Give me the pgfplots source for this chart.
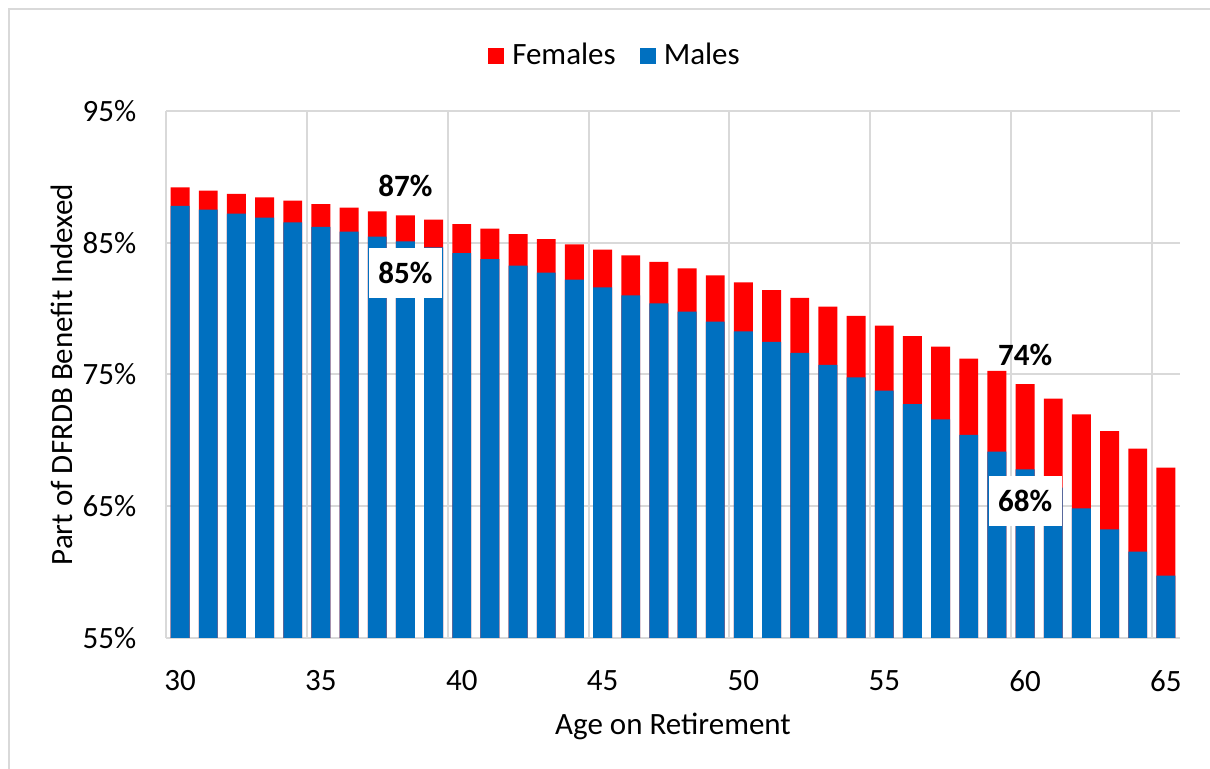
\documentclass[border=0pt]{standalone}
\usepackage{pgfplots}
\pgfplotsset{compat=1.18}
\usepackage{fontspec}
\setmainfont{Carlito}
\definecolor{fem}{HTML}{FF0000}
\definecolor{mal}{HTML}{0070C0}
\definecolor{gridc}{HTML}{D9D9D9}
\begin{document}
\fontsize{15.5}{18}\selectfont
\begin{tikzpicture}
\useasboundingbox (0,0) rectangle (605pt,384.5pt);
\draw[gridc, line width=1pt] (4.5pt,0) -- (4.5pt,380pt) -- (605pt,380pt);
\begin{axis}[at={(83pt,65.5pt)}, anchor=south west, scale only axis,
  width=507pt, height=263.5pt,
  xmin=29.5, xmax=65.5, ymin=55, ymax=95,
  ybar, bar width=0.67, bar shift=0pt,
  xtick={30,35,...,65}, xticklabels={30,35,40,45,50,55,60,65},
  ytick={55,65,75,85,95}, yticklabels={55\%,65\%,75\%,85\%,95\%},
  major tick length=0pt,
  axis line style={draw=none},
  ymajorgrids, grid style={gridc, line width=1pt},
  extra x ticks={29.5,34.5,...,64.5}, extra x tick labels={},
  extra x tick style={grid=major, major tick length=0pt},
  yticklabel style={anchor=east, xshift=-9.5pt},
  xticklabel style={anchor=north, yshift=-11pt},
  xlabel={Age on Retirement},
  ylabel={Part of DFRDB Benefit Indexed},
  xlabel style={at={(axis description cs:0.5,-0.167)}, anchor=center},
  ylabel style={at={(axis description cs:-0.1026,0.5)}, anchor=center},
  legend style={draw=none, fill=none, at={(axis description cs:0.4438,1.104)}, anchor=center,
    legend columns=2,
    /tikz/every odd column/.append style={column sep=2pt},
    /tikz/every even column/.append style={column sep=10pt}},
  legend image code/.code={\fill[#1] (0pt,-4pt) rectangle (8pt,4pt);},
]
\addplot[fill=fem, draw=none] coordinates {
(30,89.21) (31,88.95) (32,88.70) (33,88.45) (34,88.19) (35,87.94) (36,87.66) (37,87.38) (38,87.08) (39,86.75)
(40,86.42) (41,86.07) (42,85.66) (43,85.28) (44,84.88) (45,84.48) (46,84.05) (47,83.54) (48,83.06) (49,82.53)
(50,82.00) (51,81.41) (52,80.81) (53,80.15) (54,79.44) (55,78.71) (56,77.92) (57,77.11) (58,76.20) (59,75.27)
(60,74.26) (61,73.17) (62,71.98) (63,70.71) (64,69.37) (65,67.93)};
\addlegendentry{Females}
\addplot[fill=mal, draw=none] coordinates {
(30,87.79) (31,87.51) (32,87.21) (33,86.90) (34,86.55) (35,86.20) (36,85.84) (37,85.46) (38,85.11) (39,84.65)
(40,84.21) (41,83.75) (42,83.26) (43,82.73) (44,82.20) (45,81.62) (46,81.01) (47,80.40) (48,79.77) (49,79.01)
(50,78.28) (51,77.47) (52,76.64) (53,75.73) (54,74.79) (55,73.77) (56,72.76) (57,71.60) (58,70.41) (59,69.14)
(60,67.80) (61,66.41) (62,64.84) (63,63.25) (64,61.55) (65,59.73)};
\addlegendentry{Males}
\node[font=\bfseries] at (axis cs:38,89.3) {87\%};
\node[font=\bfseries, fill=white, minimum width=36.5pt, minimum height=25pt, inner sep=0pt] at (axis cs:38,82.7) {85\%};
\node[font=\bfseries] at (axis cs:60,76.5) {74\%};
\node[font=\bfseries, fill=white, minimum width=36.5pt, minimum height=25pt, inner sep=0pt] at (axis cs:60,65.4) {68\%};
\end{axis}
\end{tikzpicture}
\end{document}
